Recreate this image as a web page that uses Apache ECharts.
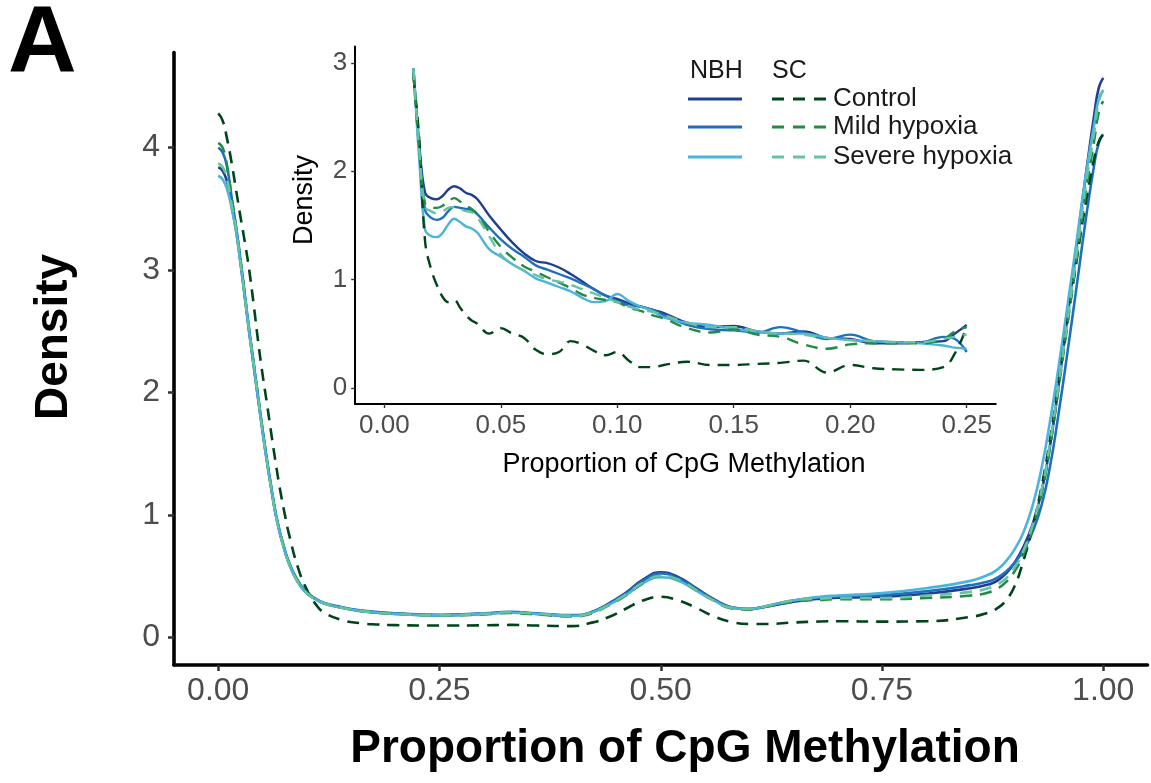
<!DOCTYPE html>
<html>
<head>
<meta charset="utf-8">
<script src="https://cdn.jsdelivr.net/npm/echarts@6/dist/echarts.min.js"></script>
<style>
html,body{margin:0;padding:0;background:#fff;}
#chart{width:1151px;height:783px;}
</style>
</head>
<body>
<div id="chart"></div>
<script>
// ---------- DATA ----------
var groupNames = ['Control', 'Mild hypoxia', 'Severe hypoxia'];
var sourceNames = ['NBH', 'SC'];
var mainXTicks = [0, 0.25, 0.5, 0.75, 1];
var mainYTicks = [0, 1, 2, 3, 4];
var insetXTicks = [0, 0.05, 0.1, 0.15, 0.2, 0.25];
var insetYTicks = [0, 1, 2, 3];
var mainXTitle = 'Proportion of CpG Methylation';
var mainYTitle = 'Density';
var insetXTitle = 'Proportion of CpG Methylation';
var insetYTitle = 'Density';
var panelLetter = 'A';

var mainX = [0, 0.005, 0.01, 0.015, 0.02, 0.025, 0.03, 0.035, 0.04, 0.045,
  0.05, 0.055, 0.06, 0.065, 0.07, 0.075, 0.08, 0.09, 0.1, 0.11,
  0.12, 0.14, 0.16, 0.18, 0.2, 0.25, 0.3, 0.33, 0.36, 0.4,
  0.42, 0.44, 0.46, 0.48, 0.5, 0.52, 0.54, 0.56, 0.58, 0.6,
  0.62, 0.65, 0.68, 0.7, 0.75, 0.8, 0.85, 0.87, 0.88, 0.89,
  0.9, 0.91, 0.92, 0.93, 0.94, 0.95, 0.96, 0.97, 0.98, 0.99,
  0.995, 1.0];

var mainNBHControl = [3.84, 3.81, 3.72, 3.53, 3.33, 3.07, 2.78, 2.49, 2.22, 1.95,
  1.69, 1.44, 1.21, 1.00, 0.84, 0.71, 0.60, 0.45, 0.36, 0.31,
  0.275, 0.24, 0.215, 0.20, 0.19, 0.178, 0.19, 0.203, 0.19, 0.175,
  0.20, 0.27, 0.36, 0.47, 0.53, 0.49, 0.40, 0.31, 0.245, 0.23,
  0.25, 0.29, 0.315, 0.322, 0.33, 0.355, 0.40, 0.43, 0.46, 0.52,
  0.61, 0.74, 0.92, 1.18, 1.57, 2.08, 2.64, 3.2, 3.76, 4.28,
  4.49, 4.57];
var mainNBHMild = [4.00, 3.96, 3.84, 3.60, 3.36, 3.09, 2.80, 2.51, 2.24, 1.97,
  1.70, 1.45, 1.22, 1.01, 0.85, 0.72, 0.61, 0.46, 0.37, 0.315,
  0.28, 0.245, 0.22, 0.205, 0.195, 0.182, 0.195, 0.208, 0.195, 0.18,
  0.20, 0.265, 0.355, 0.46, 0.52, 0.48, 0.395, 0.305, 0.24, 0.23,
  0.255, 0.30, 0.325, 0.332, 0.345, 0.375, 0.425, 0.455, 0.485, 0.535,
  0.61, 0.71, 0.86, 1.07, 1.40, 1.85, 2.35, 2.87, 3.40, 3.87,
  4.04, 4.11];
var mainNBHSevere = [3.77, 3.74, 3.66, 3.51, 3.32, 3.06, 2.78, 2.49, 2.22, 1.95,
  1.68, 1.43, 1.21, 1.00, 0.84, 0.71, 0.60, 0.45, 0.36, 0.31,
  0.275, 0.24, 0.215, 0.20, 0.19, 0.178, 0.19, 0.20, 0.19, 0.175,
  0.195, 0.26, 0.34, 0.44, 0.49, 0.46, 0.38, 0.30, 0.24, 0.23,
  0.255, 0.30, 0.33, 0.34, 0.36, 0.40, 0.46, 0.51, 0.55, 0.62,
  0.72, 0.86, 1.07, 1.37, 1.77, 2.23, 2.73, 3.24, 3.76, 4.2,
  4.4, 4.47];
var mainSCControl = [4.28, 4.22, 4.07, 3.88, 3.66, 3.44, 3.23, 3.0, 2.72, 2.42,
  2.15, 1.91, 1.66, 1.42, 1.20, 1.01, 0.84, 0.57, 0.39, 0.27,
  0.20, 0.14, 0.115, 0.103, 0.098, 0.095, 0.097, 0.10, 0.095, 0.09,
  0.115, 0.16, 0.23, 0.30, 0.33, 0.30, 0.24, 0.17, 0.125, 0.108,
  0.108, 0.12, 0.128, 0.13, 0.127, 0.13, 0.165, 0.20, 0.235, 0.30,
  0.42, 0.63, 0.89, 1.22, 1.62, 2.1, 2.6, 3.08, 3.54, 3.92,
  4.05, 4.11];
var mainSCMild = [4.04, 4.00, 3.85, 3.60, 3.36, 3.09, 2.80, 2.51, 2.24, 1.97,
  1.70, 1.45, 1.22, 1.01, 0.85, 0.72, 0.61, 0.46, 0.365, 0.31,
  0.275, 0.24, 0.215, 0.20, 0.19, 0.178, 0.185, 0.198, 0.185, 0.17,
  0.19, 0.255, 0.34, 0.44, 0.50, 0.47, 0.385, 0.30, 0.235, 0.225,
  0.25, 0.29, 0.305, 0.31, 0.31, 0.32, 0.34, 0.365, 0.395, 0.45,
  0.54, 0.68, 0.88, 1.16, 1.56, 2.06, 2.58, 3.10, 3.62, 4.07,
  4.29, 4.38];
var mainSCSevere = [3.87, 3.84, 3.74, 3.54, 3.34, 3.07, 2.79, 2.50, 2.23, 1.96,
  1.69, 1.44, 1.21, 1.00, 0.84, 0.71, 0.60, 0.45, 0.36, 0.31,
  0.275, 0.24, 0.215, 0.20, 0.19, 0.178, 0.19, 0.203, 0.19, 0.175,
  0.195, 0.26, 0.345, 0.445, 0.50, 0.47, 0.385, 0.30, 0.24, 0.23,
  0.255, 0.30, 0.315, 0.32, 0.32, 0.34, 0.37, 0.40, 0.43, 0.48,
  0.57, 0.71, 0.91, 1.19, 1.59, 2.09, 2.61, 3.14, 3.68, 4.14,
  4.38, 4.47];

var insetX = [0.0125, 0.015, 0.0175, 0.02, 0.0225, 0.025, 0.0275, 0.03, 0.0325, 0.035, 0.0375, 0.04,
  0.045, 0.05, 0.055, 0.06, 0.065, 0.07, 0.075, 0.08, 0.085, 0.09, 0.095, 0.1, 0.105, 0.11, 0.115, 0.12,
  0.13, 0.14, 0.15, 0.16, 0.17, 0.18, 0.19, 0.2, 0.21, 0.22, 0.23, 0.24,
  0.245, 0.25];
var insetNBHControl = [2.95, 2.25, 1.80, 1.75, 1.74, 1.77, 1.83, 1.86, 1.84, 1.80, 1.78, 1.74,
  1.59, 1.46, 1.34, 1.24, 1.17, 1.15, 1.11, 1.05, 0.98, 0.91, 0.85, 0.82, 0.78, 0.75, 0.72, 0.69,
  0.60, 0.56, 0.57, 0.52, 0.50, 0.52, 0.46, 0.45, 0.41, 0.41, 0.42, 0.43,
  0.50, 0.58];
var insetNBHMild = [2.95, 2.2, 1.64, 1.57, 1.55, 1.57, 1.63, 1.67, 1.66, 1.65, 1.64, 1.60,
  1.48, 1.37, 1.28, 1.21, 1.13, 1.09, 1.05, 1.01, 0.96, 0.91, 0.85, 0.80, 0.76, 0.75, 0.72, 0.67,
  0.58, 0.54, 0.53, 0.51, 0.56, 0.51, 0.45, 0.49, 0.43, 0.42, 0.42, 0.47,
  0.45, 0.33];
var insetNBHSevere = [2.95, 2.1, 1.46, 1.40, 1.39, 1.43, 1.51, 1.56, 1.53, 1.49, 1.47, 1.43,
  1.28, 1.21, 1.14, 1.08, 1.01, 0.97, 0.93, 0.89, 0.83, 0.79, 0.80, 0.865, 0.80, 0.75, 0.71, 0.65,
  0.60, 0.58, 0.54, 0.52, 0.50, 0.50, 0.46, 0.44, 0.43, 0.42, 0.41, 0.39,
  0.37, 0.36];
var insetSCControl = [2.87, 2.3, 1.35, 1.10, 0.95, 0.84, 0.79, 0.81, 0.74, 0.67, 0.62, 0.59,
  0.50, 0.55, 0.50, 0.46, 0.35, 0.31, 0.33, 0.43, 0.40, 0.34, 0.30, 0.33, 0.25, 0.19, 0.19, 0.21,
  0.24, 0.21, 0.21, 0.22, 0.23, 0.25, 0.14, 0.21, 0.18, 0.17, 0.165, 0.19,
  0.32, 0.56];
var insetSCMild = [2.9, 2.2, 1.70, 1.67, 1.66, 1.68, 1.72, 1.75, 1.72, 1.68, 1.65, 1.60,
  1.44, 1.30, 1.20, 1.12, 1.07, 1.02, 0.97, 0.92, 0.86, 0.83, 0.81, 0.79, 0.74, 0.71, 0.67, 0.64,
  0.55, 0.51, 0.54, 0.49, 0.47, 0.40, 0.36, 0.40, 0.41, 0.41, 0.41, 0.45,
  0.52, 0.56];
var insetSCSevere = [2.95, 2.2, 1.67, 1.63, 1.61, 1.63, 1.66, 1.67, 1.65, 1.63, 1.62, 1.57,
  1.40, 1.23, 1.14, 1.08, 1.04, 1.00, 0.98, 0.95, 0.91, 0.87, 0.83, 0.79, 0.75, 0.72, 0.70, 0.67,
  0.60, 0.56, 0.56, 0.52, 0.50, 0.49, 0.46, 0.44, 0.43, 0.42, 0.42, 0.45,
  0.47, 0.49];

// ---------- STYLE ----------
var nbhColors = ['#213f8f', '#1f6fbf', '#4ab4da'];
var scColors = ['#00441b', '#238b45', '#66c2a4'];
var FONT = '"Liberation Sans", Arial, Helvetica, sans-serif';

function pairs(xs, ys) { return xs.map(function (x, i) { return [x, ys[i]]; }); }

var mainNBH = [mainNBHControl, mainNBHMild, mainNBHSevere];
var mainSC = [mainSCControl, mainSCMild, mainSCSevere];
var insetNBH = [insetNBHControl, insetNBHMild, insetNBHSevere];
var insetSC = [insetSCControl, insetSCMild, insetSCSevere];

var series = [];
function addSeries(gi, xs, list, colors, dashed, src, width, smooth) {
  list.forEach(function (ys, i) {
    series.push({
      type: 'line', name: src + ' ' + groupNames[i],
      xAxisIndex: gi, yAxisIndex: gi,
      data: pairs(xs, ys), showSymbol: false, symbol: 'none',
      smooth: smooth, animation: false,
      lineStyle: { color: colors[i], width: width, type: dashed ? [12, 8] : 'solid', cap: 'butt', join: 'round' },
      z: dashed ? 3 : 2
    });
  });
}
addSeries(0, mainX, mainNBH, nbhColors, false, 'NBH', 2.6, 0.5);
addSeries(0, mainX, mainSC, scColors, true, 'SC', 2.6, 0.5);
addSeries(1, insetX, insetNBH, nbhColors, false, 'NBH', 2.4, 0.4);
addSeries(1, insetX, insetSC, scColors, true, 'SC', 2.4, 0.4);

function axisCommon(lineW, tickLen, fontSize, margin, ticks, fmt) {
  return {
    type: 'value',
    axisLine: { show: true, onZero: false, lineStyle: { color: '#000', width: lineW } },
    axisTick: { show: true, customValues: ticks, length: tickLen, lineStyle: { color: '#333', width: lineW * 0.7 } },
    axisLabel: { customValues: ticks, formatter: fmt, fontSize: fontSize, color: '#4d4d4d', margin: margin, fontFamily: FONT },
    splitLine: { show: false }
  };
}
var fmt2 = function (v) { return v.toFixed(2); };
var fmt0 = function (v) { return String(Math.round(v)); };

var x0 = axisCommon(3.6, 6, 32, 10, mainXTicks, fmt2); x0.gridIndex = 0; x0.min = -0.05; x0.max = 1.05;
var y0 = axisCommon(3.6, 6, 32, 14, mainYTicks, fmt0); y0.gridIndex = 0; y0.min = -0.2275; y0.max = 4.7775;
var x1 = axisCommon(2, 4, 26, 9, insetXTicks, fmt2); x1.gridIndex = 1; x1.min = -0.0125; x1.max = 0.2625;
var y1 = axisCommon(2, 4, 26, 8, insetYTicks, fmt0); y1.gridIndex = 1; y1.min = -0.15; y1.max = 3.15;

// legend graphic
var legendRows = [99, 127, 157];
var graphics = [];
graphics.push({ type: 'text', x: 690, y: 71, style: { text: sourceNames[0], fontSize: 25, fontFamily: FONT, fill: '#1a1a1a', align: 'left', verticalAlign: 'middle' } });
graphics.push({ type: 'text', x: 772, y: 71, style: { text: sourceNames[1], fontSize: 25, fontFamily: FONT, fill: '#1a1a1a', align: 'left', verticalAlign: 'middle' } });
legendRows.forEach(function (yy, i) {
  graphics.push({ type: 'line', shape: { x1: 688, y1: yy, x2: 742, y2: yy }, style: { stroke: nbhColors[i], lineWidth: 3 } });
  graphics.push({ type: 'line', shape: { x1: 772, y1: yy, x2: 826, y2: yy }, style: { stroke: scColors[i], lineWidth: 3, lineDash: [12, 9] } });
  graphics.push({ type: 'text', x: 833, y: yy, style: { text: groupNames[i], fontSize: 26, fontFamily: FONT, fill: '#1a1a1a', align: 'left', verticalAlign: 'middle' } });
});
graphics.push({ type: 'text', x: 8, y: 46, style: { text: panelLetter, fontSize: 95, fontWeight: 'bold', fontFamily: FONT, fill: '#000', align: 'left', verticalAlign: 'middle' } });
graphics.push({ type: 'text', x: 685, y: 749, style: { text: mainXTitle, fontSize: 46, fontWeight: 'bold', fontFamily: FONT, fill: '#000', align: 'center', verticalAlign: 'middle' } });
graphics.push({ type: 'text', x: 54, y: 337, rotation: Math.PI / 2, style: { text: mainYTitle, fontSize: 46, fontWeight: 'bold', fontFamily: FONT, fill: '#000', align: 'center', verticalAlign: 'middle' } });
graphics.push({ type: 'text', x: 684, y: 465, style: { text: insetXTitle, fontSize: 27, fontFamily: FONT, fill: '#000', align: 'center', verticalAlign: 'middle' } });
graphics.push({ type: 'text', x: 305, y: 200, rotation: Math.PI / 2, style: { text: insetYTitle, fontSize: 27, fontFamily: FONT, fill: '#000', align: 'center', verticalAlign: 'middle' } });

var chart = echarts.init(document.getElementById('chart'), null, { renderer: 'canvas' });
chart.setOption({
  backgroundColor: '#fff',
  animation: false,
  grid: [
    { left: 174, right: 3.5, top: 52.5, bottom: 118 },
    { left: 355.2, right: 155.2, top: 46.5, bottom: 379 }
  ],
  xAxis: [x0, x1],
  yAxis: [y0, y1],
  series: series,
  graphic: graphics
});
</script>
</body>
</html>
